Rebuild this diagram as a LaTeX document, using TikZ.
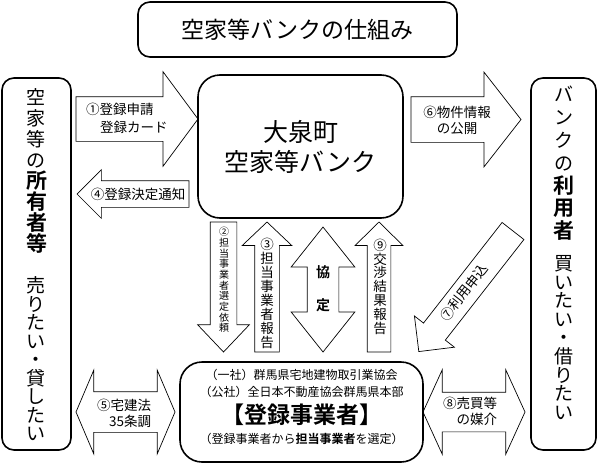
\documentclass[tikz,border=0pt]{standalone}
\usepackage{fontspec}
\setmainfont{Noto Sans CJK JP}[BoldFont={Noto Sans CJK JP Bold}]
\usetikzlibrary{shapes.arrows}
\lineskiplimit=-100pt
\newcommand{\bigb}[1]{{\bfseries\fontsize{21}{21}\selectfont #1}}

\begin{document}
\begin{tikzpicture}[x=1pt, y=-1pt,
    box/.style={draw, line width=1.6pt, rounded corners=12pt, inner sep=0pt},
    bigbox/.style={box, rounded corners=22pt},
    blk/.style 2 args={draw, line width=0.7pt, single arrow, inner sep=#1, outer sep=0pt, single arrow head extend=#2},
    dblk/.style 2 args={draw, line width=0.7pt, double arrow, inner sep=#1, outer sep=0pt, double arrow head extend=#2},
    lbl/.style={inner sep=0pt, font=\fontsize{13.5}{18}\selectfont},
    tate/.style={inner sep=0pt, align=center}
  ]
    \useasboundingbox (0,0) rectangle (599,466);
    \node[box, minimum width=319pt, minimum height=55pt, font=\fontsize{23}{23}\selectfont] (title) at (297.5,29.5) {空家等バンクの仕組み};
    \node[box, minimum width=69pt, minimum height=372pt] (owner) at (36.5,264) {};
    \node[box, minimum width=65pt, minimum height=372pt] (user) at (563.5,264) {};
    \node[bigbox, minimum width=205pt, minimum height=143pt, align=center, font=\fontsize{25}{30}\selectfont] (bank) at (300.5,146.5) {大泉町\\空家等バンク};
    \node[bigbox, minimum width=243pt, minimum height=100pt] (reg) at (301.5,412) {};

    \node[tate, font=\fontsize{19}{21}\selectfont] (ownerA) at (36.5,170.5) {空\\家\\等\\の\\\bigb{所}\\\bigb{有}\\\bigb{者}\\\bigb{等}};
    \node[tate, font=\fontsize{19}{18.5}\selectfont] (ownerB) at (36.5,359) {売\\り\\た\\い\\・\\貸\\し\\た\\い};
    \node[tate, font=\fontsize{19}{22.8}\selectfont] (userA) at (563.5,163.5) {バ\\ン\\ク\\の\\\bigb{利}\\\bigb{用}\\\bigb{者}};
    \node[tate, font=\fontsize{19}{18.6}\selectfont] (userB) at (563.5,337.5) {買\\い\\た\\い\\・\\借\\り\\た\\い};

    \node[inner sep=0pt, font=\fontsize{12}{12}\selectfont] (assoc1) at (301.5,375) {（一社）群馬県宅地建物取引業協会};
    \node[inner sep=0pt, font=\fontsize{12}{12}\selectfont] (assoc2) at (301.5,392) {（公社）全日本不動産協会群馬県本部};
    \node[inner sep=0pt, font=\bfseries\fontsize{23}{23}\selectfont] (regname) at (301.5,415) {【登録事業者】};
    \node[inner sep=0pt, font=\fontsize{12}{12}\selectfont] (regnote) at (301.5,439) {（登録事業者から\textbf{担当事業者}を選定）};

    \node[blk={22pt}{25pt}, minimum height=122pt, single arrow tip angle=107, anchor=tail] (a1) at (76,119) {};
    \node[blk={13pt}{11pt}, minimum height=112pt, single arrow tip angle=90, rotate=180, anchor=tail] (a4) at (189,194) {};
    \node[blk={22.5pt}{24.5pt}, minimum height=110pt, single arrow tip angle=104, anchor=tail] (a6) at (411,119.5) {};
    \node[blk={13pt}{12.5pt}, minimum height=130pt, single arrow tip angle=87, rotate=-90, anchor=tail] (a2) at (223.5,222) {};
    \node[blk={12pt}{12.5pt}, minimum height=130pt, single arrow tip angle=93, rotate=90, anchor=tail] (a3) at (267,352) {};
    \node[blk={11.5pt}{12pt}, minimum height=130pt, single arrow tip angle=91, rotate=90, anchor=tail] (a9) at (379,352) {};
    \node[blk={13.5pt}{11.5pt}, minimum height=153pt, single arrow tip angle=90, rotate=232, anchor=tail] (a7) at (513,231) {};
    \node[dblk={15.5pt}{16pt}, minimum height=125pt, double arrow tip angle=77, rotate=90] (agree) at (323,289.5) {};
    \node[dblk={20pt}{21.5pt}, minimum height=99pt, double arrow tip angle=134] (a5) at (125.5,412) {};
    \node[dblk={19.5pt}{22.5pt}, minimum height=102pt, double arrow tip angle=131] (a8) at (474,412) {};

    \node[lbl, anchor=west, align=left] (t1) at (86,118) {①登録申請\\\hspace*{14pt}登録カード};
    \node[lbl] (t4) at (138,194) {④登録決定通知};
    \node[lbl, align=center, font=\fontsize{13.5}{16}\selectfont] (t6) at (457,120) {⑥物件情報\\の公開};
    \node[tate, font=\fontsize{10}{10.7}\selectfont] (t2) at (224,280) {②\\担\\当\\事\\業\\者\\選\\定\\依\\頼};
    \node[tate, font=\fontsize{13.5}{14.1}\selectfont] (t3) at (267,293.5) {③\\担\\当\\事\\業\\者\\報\\告};
    \node[tate, font=\fontsize{13.5}{13.8}\selectfont] (t9) at (380,286.5) {⑨\\交\\渉\\結\\果\\報\\告};
    \node[tate, font=\bfseries\fontsize{14}{33}\selectfont] (tag) at (323,288.5) {協\\定};
    \node[lbl, rotate=52] (t7) at (464,292.5) {⑦利用申込};
    \node[lbl, align=right, font=\fontsize{13.5}{16}\selectfont] (t5) at (124,413) {⑤宅建法\\35条調};
    \node[lbl, align=right, font=\fontsize{13.5}{16}\selectfont] (t8) at (470,411) {⑧売買等\\の媒介};
\end{tikzpicture}
\end{document}
